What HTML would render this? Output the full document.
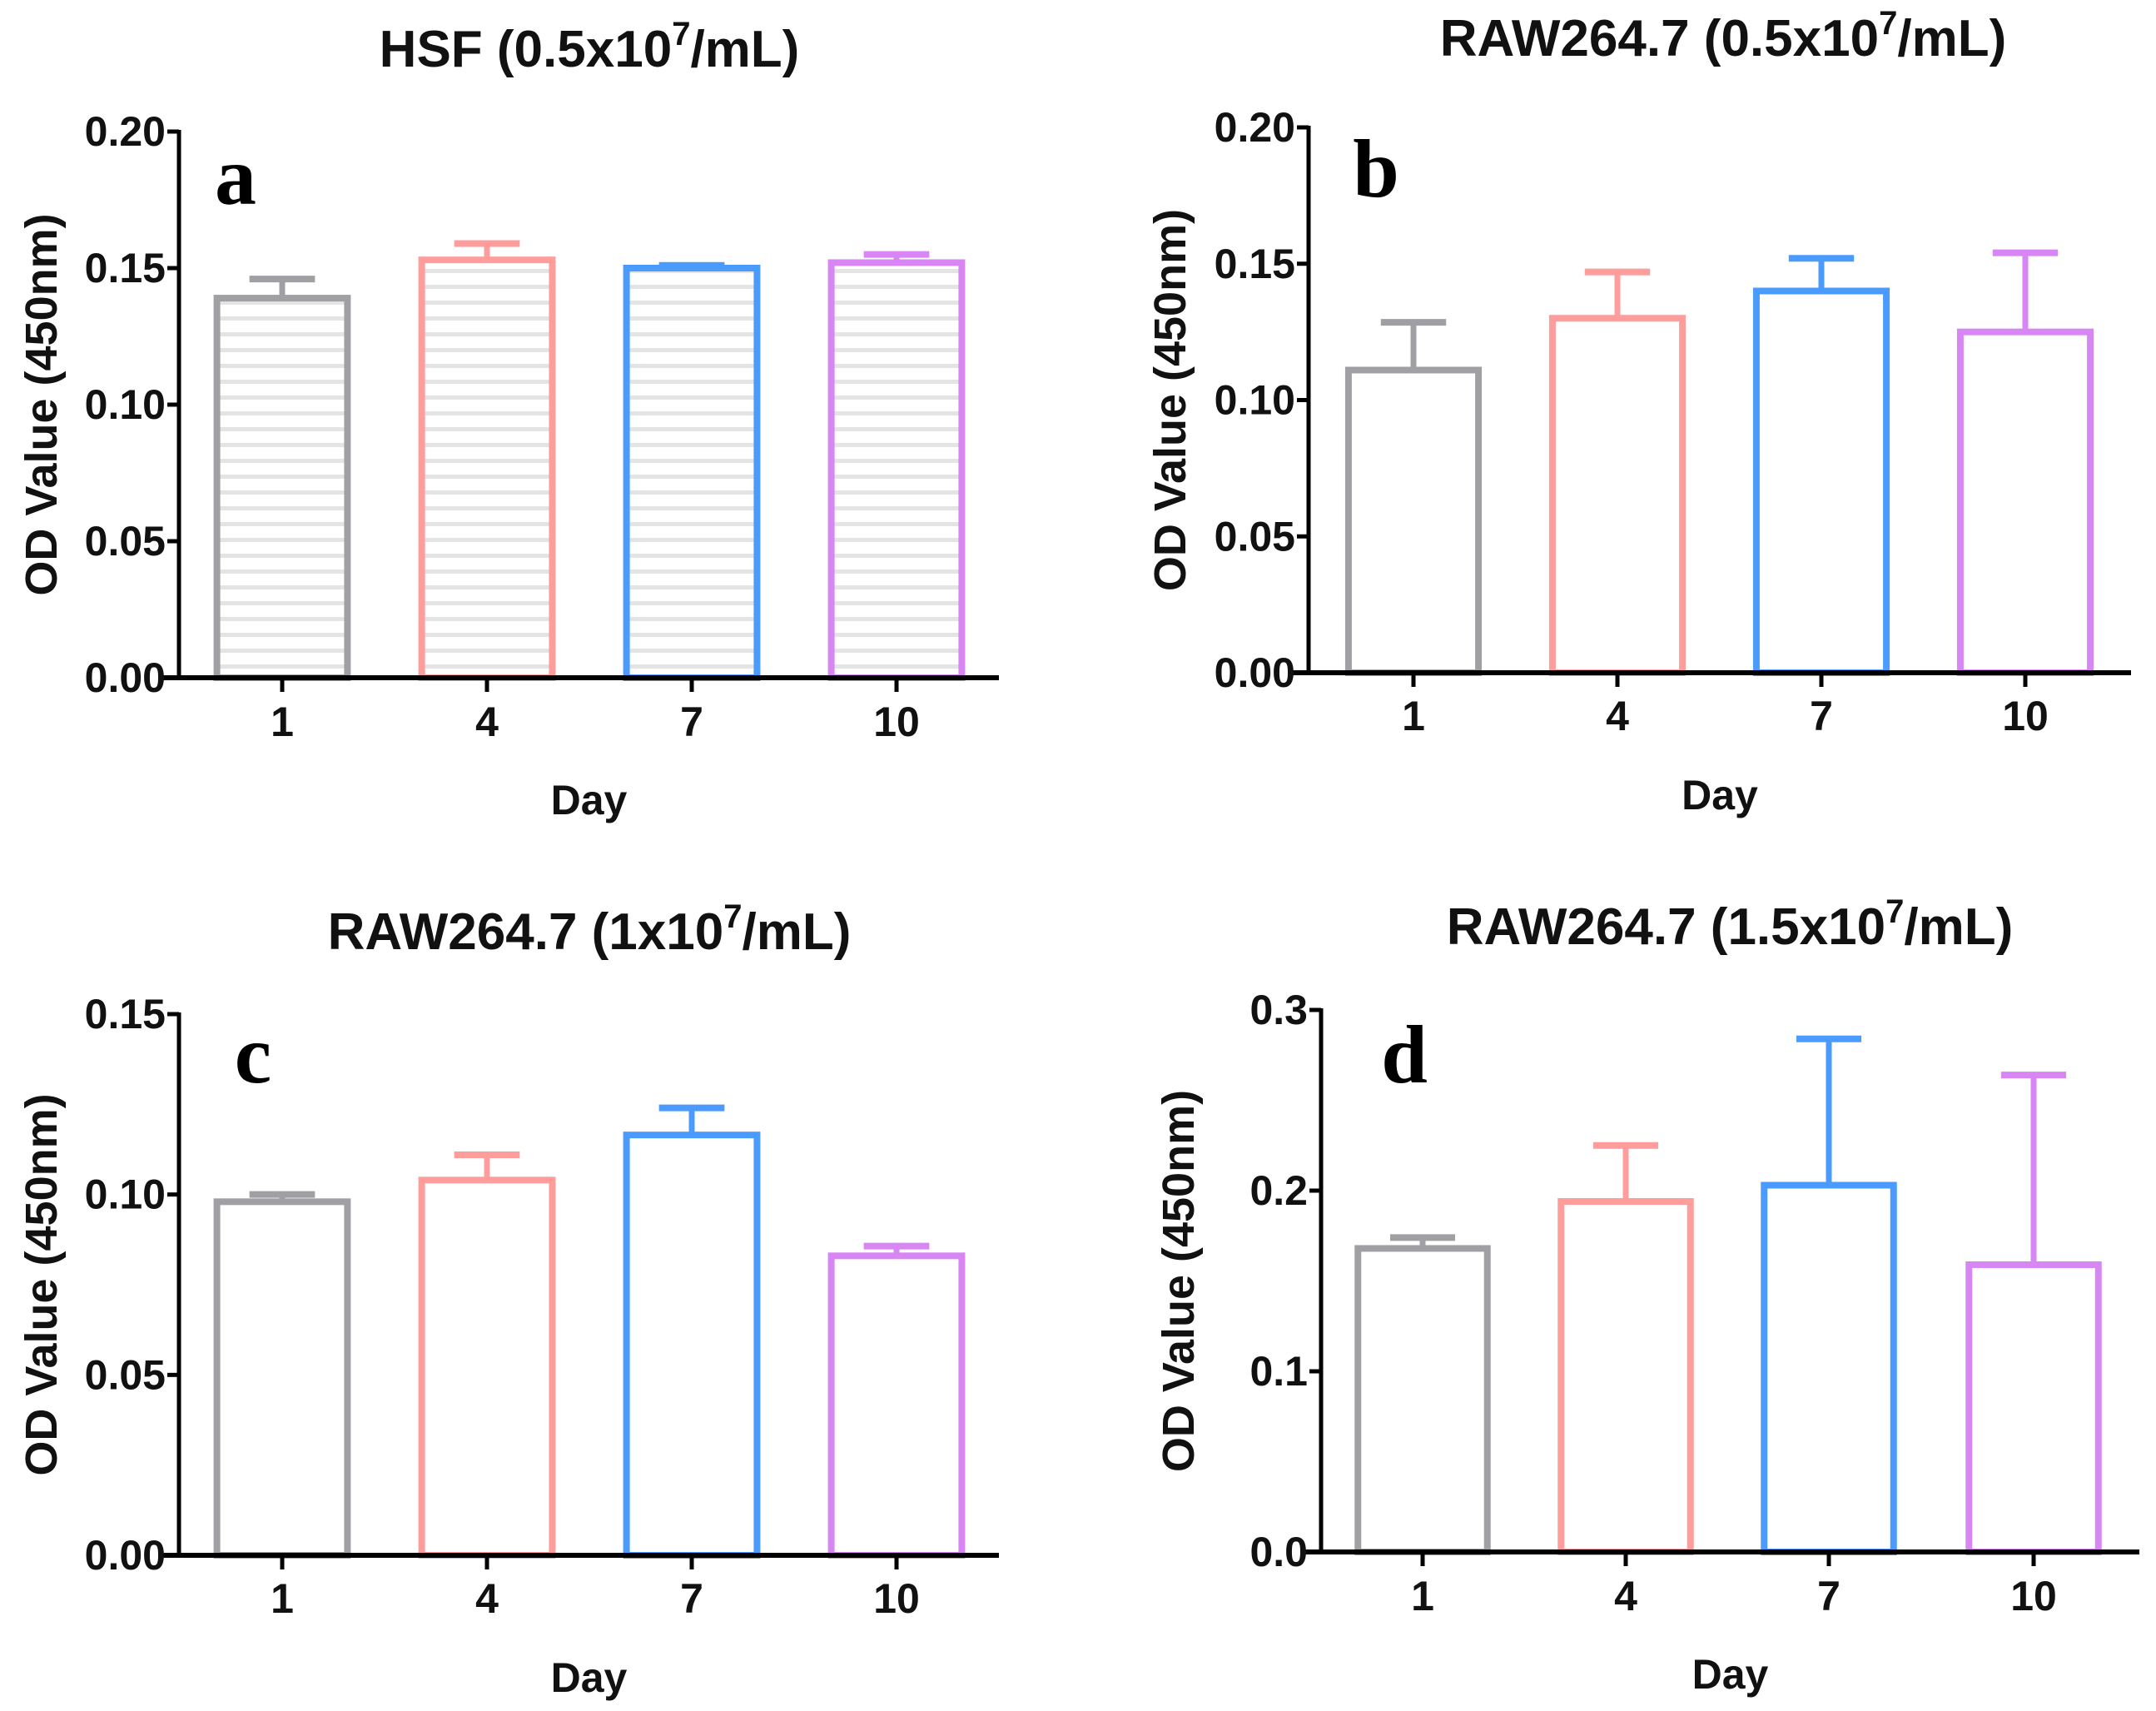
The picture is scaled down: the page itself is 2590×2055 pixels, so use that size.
<!DOCTYPE html>
<html><head><meta charset="utf-8"><style>
html,body{margin:0;padding:0;background:#fff;}
svg{display:block;font-family:"Liberation Sans",Arial,sans-serif;}
</style></head><body>
<svg id="fig" width="2590" height="2055" viewBox="0 0 2590 2055" xmlns="http://www.w3.org/2000/svg">
<defs>
<pattern id="hatch" patternUnits="userSpaceOnUse" width="20" height="19">
<rect x="0" y="0" width="20" height="5" fill="#e4e4e4"/>
</pattern>
</defs>
</svg>
<script>
const categories = ["1","4","7","10"];
const colors = ["#a0a0a4","#ff9c9c","#4b9bff","#d986f5"];
const valuesA = [0.139, 0.153, 0.150, 0.152];
const errorsA = [0.146, 0.159, 0.151, 0.155];
const valuesB = [0.111, 0.130, 0.140, 0.125];
const errorsB = [0.1285, 0.147, 0.152, 0.154];
const valuesC = [0.098, 0.104, 0.1165, 0.083];
const errorsC = [0.100, 0.111, 0.124, 0.0857];
const valuesD = [0.168, 0.194, 0.203, 0.159];
const errorsD = [0.174, 0.225, 0.284, 0.264];
const ticksA = ["0.00","0.05","0.10","0.15","0.20"];
const ticksB = ["0.00","0.05","0.10","0.15","0.20"];
const ticksC = ["0.00","0.05","0.10","0.15"];
const ticksD = ["0.0","0.1","0.2","0.3"];

const panels = [
 {id:"a", title:"HSF (0.5x10", vals:valuesA, errs:errorsA, ticks:ticksA, max:0.20, ax:215, top:158, bot:814, xend:1200, tx:[339,585,831,1077], titleX:708, titleY:80, tickY:884, dayY:978, ylX:68, letterX:283, letterY:245, hatch:true},
 {id:"b", title:"RAW264.7 (0.5x10", vals:valuesB, errs:errorsB, ticks:ticksB, max:0.20, ax:1572, top:153, bot:808, xend:2560, tx:[1698,1943,2188,2433], titleX:2070, titleY:67, tickY:877, dayY:972, ylX:1424, letterX:1653, letterY:236, hatch:false},
 {id:"c", title:"RAW264.7 (1x10", vals:valuesC, errs:errorsC, ticks:ticksC, max:0.15, ax:215, top:1218, bot:1868, xend:1200, tx:[339,585,831,1077], titleX:708, titleY:1140, tickY:1937, dayY:2032, ylX:68, letterX:304, letterY:1300, hatch:false},
 {id:"d", title:"RAW264.7 (1.5x10", vals:valuesD, errs:errorsD, ticks:ticksD, max:0.3, ax:1587, top:1213, bot:1864, xend:2570, tx:[1709,1953,2197,2443], titleX:2078, titleY:1134, tickY:1934, dayY:2028, ylX:1434, letterX:1687, letterY:1300, hatch:false}
];
const NS="http://www.w3.org/2000/svg";
const svg=document.getElementById("fig");
function mk(tag, attrs, parent, text){
  const e=document.createElementNS(NS,tag);
  for(const k in attrs) e.setAttribute(k,attrs[k]);
  if(text!==undefined) e.textContent=text;
  (parent||svg).appendChild(e); return e;
}
panels.forEach(p=>{
  const g=mk("g",{});
  
  
  const y=v=>p.bot-(v/p.max)*(p.bot-p.top);
  const sp=p.tx[1]-p.tx[0];
  const hw=sp*0.335, cap=sp*0.16;
  p.vals.forEach((v,i)=>{
    const cx=p.tx[i], yt=y(v), ye=y(p.errs[i]);
    const eg=mk("g",{},g);
    
    
    mk("line",{x1:cx,y1:yt,x2:cx,y2:ye,stroke:colors[i],"stroke-width":7},eg);
    mk("line",{x1:cx-cap,y1:ye,x2:cx+cap,y2:ye,stroke:colors[i],"stroke-width":8},eg);
    const r=mk("rect",{x:cx-hw+4,y:yt,width:2*hw-8,height:p.bot-yt,fill:p.hatch?"url(#hatch)":"#fff",stroke:colors[i],"stroke-width":8},g);
    
    
  });
  const ya=mk("line",{x1:p.ax,y1:p.top-2,x2:p.ax,y2:p.bot+2,stroke:"#000","stroke-width":5},g);
  
  
  const xa=mk("line",{x1:p.ax-20,y1:p.bot,x2:p.xend,y2:p.bot,stroke:"#000","stroke-width":6},g);
  
  
  p.ticks.forEach((t,i)=>{
    const v=p.max*i/(p.ticks.length-1), yy=y(v);
    mk("line",{x1:p.ax-14,y1:yy,x2:p.ax,y2:yy,stroke:"#000","stroke-width":5},g);
    const tl=mk("text",{x:p.ax-16,y:yy+17,"text-anchor":"end","font-size":50,"font-weight":"bold",fill:"#111"},g,t);
    
    
  });
  categories.forEach((c,i)=>{
    mk("line",{x1:p.tx[i],y1:p.bot,x2:p.tx[i],y2:p.bot+17,stroke:"#000","stroke-width":5},g);
    const tl=mk("text",{x:p.tx[i],y:p.tickY,"text-anchor":"middle","font-size":50,"font-weight":"bold",fill:"#111"},g,c);
    
    
  });
  const dl=mk("text",{x:(p.ax+p.xend)/2,y:p.dayY,"text-anchor":"middle","font-size":50,"font-weight":"bold",fill:"#111"},g,"Day");
  
  
  const cy=(p.top+p.bot)/2;
  const yl=mk("text",{x:p.ylX,y:cy,"text-anchor":"middle","font-size":54,"font-weight":"bold",fill:"#111",transform:`rotate(-90 ${p.ylX} ${cy})`},g,"OD Value (450nm)");
  
  
  const tt=mk("text",{x:p.titleX,y:p.titleY,"text-anchor":"middle","font-size":62,"font-weight":"bold",fill:"#111"},g);
  
  
  mk("tspan",{},tt,p.title);
  mk("tspan",{"font-size":40,dy:-26},tt,"7");
  mk("tspan",{dy:26},tt,"/mL)");
  const lt=mk("text",{x:p.letterX,y:p.letterY,"text-anchor":"middle","font-size":100,"font-weight":"bold","font-family":"Liberation Serif,serif",fill:"#000"},g,p.id);
  
  
});
</script>
</body></html>
